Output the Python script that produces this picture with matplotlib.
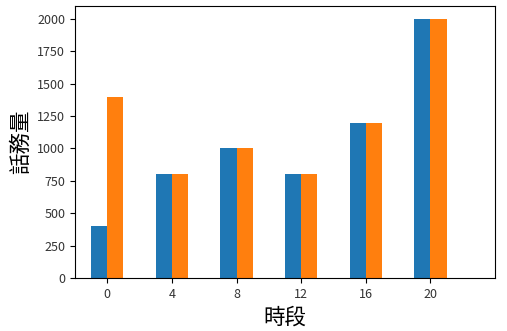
import matplotlib
matplotlib.use("Agg")
import matplotlib.pyplot as plt

plt.rcParams['font.family'] = ['Noto Sans CJK TC', 'DejaVu Sans']

hours = [0, 4, 8, 12, 16, 20]
series_a = [400, 800, 1000, 800, 1200, 2000]
series_b = [1400, 800, 1000, 800, 1200, 2000]

fig = plt.figure(figsize=(5.07, 3.31), dpi=100)
ax = fig.add_axes([75/507, 1 - 278/331, 420/507, 272/331])

ax.bar([h - 1 for h in hours], series_a, width=1, align='edge', color='#1f77b4')
ax.bar(hours, series_b, width=1, align='edge', color='#ff7f0e')

ax.set_xticks(hours)
ax.set_xlim(-2, 24)
ax.set_ylim(0, 2100)
ax.set_yticks([0, 250, 500, 750, 1000, 1250, 1500, 1750, 2000])
ax.tick_params(labelsize=9, labelcolor='#333333')
ax.set_xlabel('時段', fontsize=15.5, labelpad=4)
ax.set_ylabel('話務量', fontsize=15.5, labelpad=4)

fig.savefig('out.png', dpi=100)
